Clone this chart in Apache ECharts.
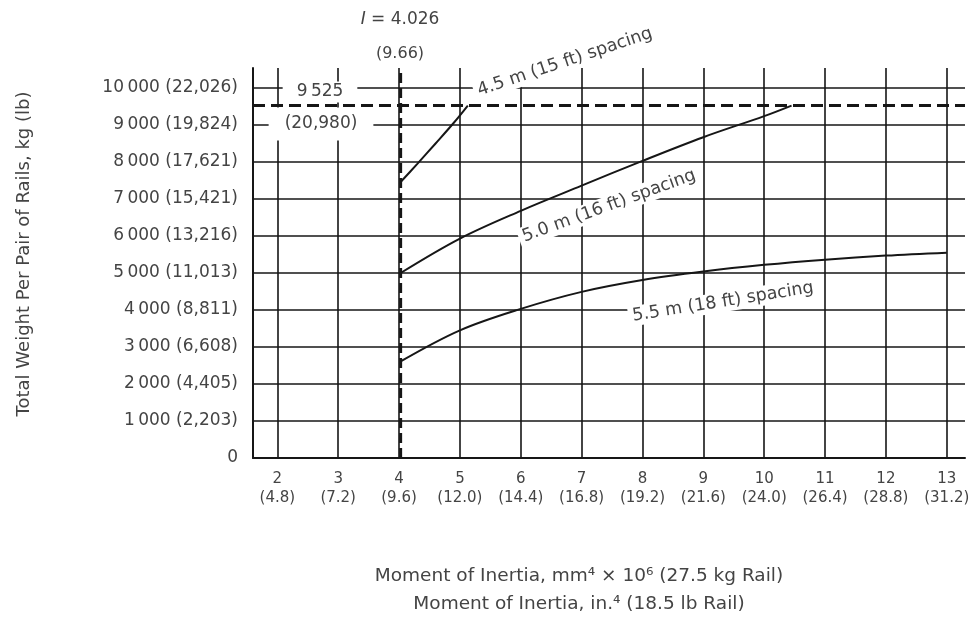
<!DOCTYPE html>
<html>
<head>
<meta charset="utf-8">
<script src="https://cdn.jsdelivr.net/npm/echarts@6/dist/echarts.min.js"></script>
<style>
  html, body { margin: 0; padding: 0; background: #fff; }
  #chart { width: 976px; height: 619px; }
</style>
</head>
<body>
<div id="chart"></div>
<script>
// Moment of inertia ticks (mm^4 x 10^6) and their inch^4 equivalents
const xTicks = [2, 3, 4, 5, 6, 7, 8, 9, 10, 11, 12, 13];
const xTickInch = ['4.8', '7.2', '9.6', '12.0', '14.4', '16.8', '19.2', '21.6', '24.0', '26.4', '28.8', '31.2'];

// Weight ticks, kg with lb in brackets
const yTicksKg = [0, 1000, 2000, 3000, 4000, 5000, 6000, 7000, 8000, 9000, 10000];
const yTickLabels = ['0', '1\u2009000 (2,203)', '2\u2009000 (4,405)', '3\u2009000 (6,608)', '4\u2009000 (8,811)',
  '5\u2009000 (11,013)', '6\u2009000 (13,216)', '7\u2009000 (15,421)', '8\u2009000 (17,621)',
  '9\u2009000 (19,824)', '10\u2009000 (22,026)'];

// Allowable weight curves for each tie spacing
const spacing45X = [4.026, 4.3, 4.6, 4.9, 5.13];
const spacing45Y = [7460, 7950, 8500, 9060, 9525];
const spacing50X = [4.026, 5, 6, 7, 8, 9, 10, 10.45];
const spacing50Y = [5000, 5930, 6680, 7360, 8030, 8670, 9240, 9525];
const spacing55X = [4.026, 5, 6, 7, 8, 9, 10, 11, 12, 13];
const spacing55Y = [2610, 3450, 4030, 4490, 4810, 5040, 5220, 5360, 5470, 5550];

// Limits: minimum moment of inertia and maximum weight
const inertiaLimit = 4.026;
const weightLimit = 9525;

const xMin = 1.6, xMax = 13.3, yMax = 10540;

const ink = '#161616';
const textInk = '#444';
const FONT = '"DejaVu Sans", sans-serif';

function pairs(xs, ys) { return xs.map((x, i) => [x, ys[i]]); }

function curve(name, xs, ys) {
  return {
    name, type: 'line', data: pairs(xs, ys), smooth: 0.35,
    showSymbol: false, symbol: 'none', z: 3,
    lineStyle: { color: ink, width: 2 }
  };
}

function label(text, x, y, deg, size, pad) {
  return {
    type: 'text', x, y, rotation: deg * Math.PI / 180, z: 1,
    style: {
      text, fill: textInk, font: size + 'px ' + FONT,
      align: 'center', verticalAlign: 'middle', textAlign: 'center', textVerticalAlign: 'middle',
      backgroundColor: '#fff', padding: pad
    }
  };
}

function title(text, x, y, rot, size) {
  return {
    type: 'text', x, y, rotation: rot,
    style: {
      text, fill: textInk, font: size + 'px ' + FONT,
      align: 'center', verticalAlign: 'middle', textAlign: 'center', textVerticalAlign: 'middle'
    }
  };
}

const chart = echarts.init(document.getElementById('chart'), null, { renderer: 'canvas' });

chart.setOption({
  animation: false,
  backgroundColor: '#fff',
  grid: { left: 253, right: 11, top: 68, bottom: 161, containLabel: false },
  xAxis: {
    type: 'value', min: xMin, max: xMax, minInterval: 1, maxInterval: 1, splitNumber: 12,
    axisLine: { show: true, lineStyle: { color: ink, width: 2 } },
    axisTick: { show: false },
    splitLine: { show: true, showMinLine: false, showMaxLine: false, lineStyle: { color: ink, width: 1.6 } },
    axisLabel: {
      margin: 12, color: textInk, fontFamily: FONT, fontSize: 15, lineHeight: 19,
      showMinLabel: false, showMaxLabel: false,
      formatter: v => {
        const i = xTicks.indexOf(Math.round(v * 1000) / 1000);
        return i < 0 ? '' : xTicks[i] + '\n(' + xTickInch[i] + ')';
      }
    }
  },
  yAxis: {
    type: 'value', min: 0, max: yMax, interval: 1000,
    axisLine: { show: true, lineStyle: { color: ink, width: 2 } },
    axisTick: { show: false },
    splitLine: { show: true, showMinLine: false, showMaxLine: false, lineStyle: { color: ink, width: 1.6 } },
    axisLabel: {
      margin: 15, color: textInk, fontFamily: FONT, fontSize: 17,
      formatter: v => {
        const i = yTicksKg.indexOf(v);
        return i < 0 ? '' : yTickLabels[i];
      }
    }
  },
  series: [
    curve('4.5 m (15 ft) spacing', spacing45X, spacing45Y),
    curve('5.0 m (16 ft) spacing', spacing50X, spacing50Y),
    curve('5.5 m (18 ft) spacing', spacing55X, spacing55Y),
    {
      name: 'I limit', type: 'line', showSymbol: false, symbol: 'none', z: 4,
      data: [[inertiaLimit, 0], [inertiaLimit, yMax]],
      lineStyle: { color: ink, width: 3, type: [10, 5] }
    },
    {
      name: 'weight limit', type: 'line', showSymbol: false, symbol: 'none', z: 4,
      data: [[xMin, weightLimit], [xMax, weightLimit]],
      lineStyle: { color: ink, width: 3, type: [12, 6] }
    }
  ],
  graphic: [
    title('Total Weight Per Pair of Rails, kg (lb)', 24, 254, Math.PI / 2, 18),
    title('Moment of Inertia, mm\u2074 \u00d7 10\u2076 (27.5 kg Rail)', 579, 576, 0, 18.5),
    title('Moment of Inertia, in.\u2074 (18.5 lb Rail)', 579, 604, 0, 18.5),
    {
      type: 'text', x: 400, y: 20,
      style: {
        text: '{it|I} = ' + inertiaLimit.toFixed(3), fill: textInk, font: '17px ' + FONT,
        align: 'center', verticalAlign: 'middle', textAlign: 'center', textVerticalAlign: 'middle',
        rich: { it: { fontStyle: 'italic', fontFamily: 'DejaVu Sans', fontSize: 17, fill: textInk, color: textInk } }
      }
    },
    label('(9.66)', 400, 54, 0, 16, [0, 0]),
    label('9\u2009525', 320, 92, 0, 17, [2, 14]),
    label('(20,980)', 321, 124, 0, 17, [8, 16]),
    label('4.5 m (15 ft) spacing', 565, 62, 18.5, 17.5, [1, 4]),
    label('5.0 m (16 ft) spacing', 609, 206, 20, 17.5, [1, 4]),
    label('5.5 m (18 ft) spacing', 723, 302, 9, 17.5, [1, 4])
  ]
});
</script>
</body>
</html>
